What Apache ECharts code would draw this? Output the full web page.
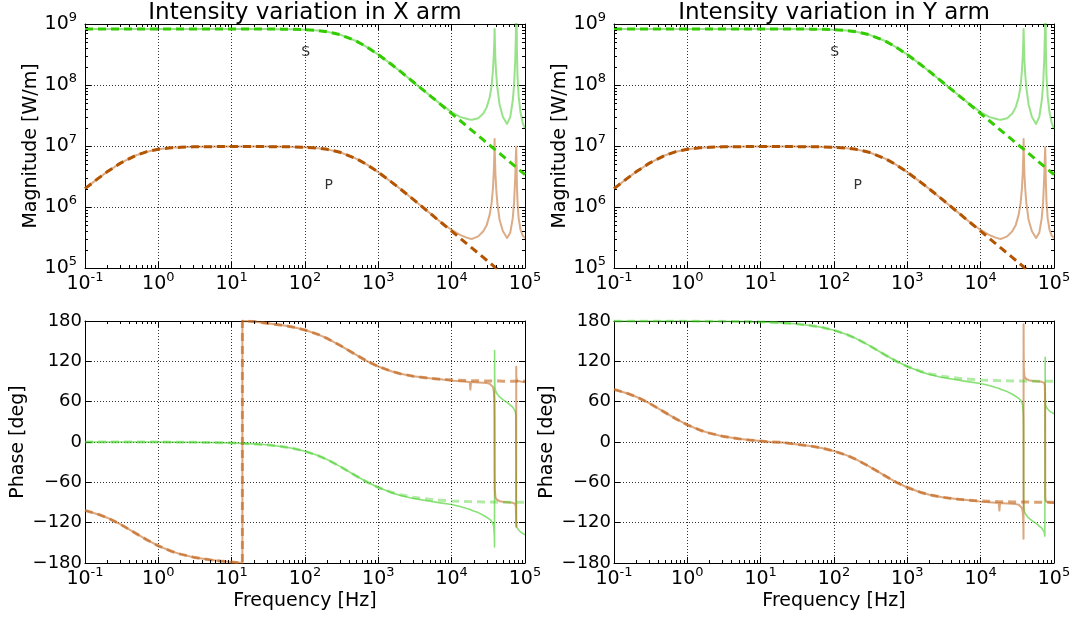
<!DOCTYPE html>
<html><head><meta charset="utf-8">
<script src="https://cdn.jsdelivr.net/npm/echarts@6/dist/echarts.min.js"></script>
<style>html,body{margin:0;padding:0;background:#fff}#c{width:1071px;height:617px}</style>
</head><body><div id="c"></div>
<script>
// ---------------- data ----------------
const freq = [
  0.1,0.15,0.2,0.3,0.5,0.7,1,1.5,2,3,
  5,7,10,14,14,20,30,50,70,100,
  150,200,300,500,700,1000,1500,2000,3000,5000,
  7000,10000,13000,16000,17600,18000,18400,19000,23000,27000,
  30000,33000,35000,36500,37500,38200,38400,38500,38600,38800,
  39500,40500,42000,45000,50000,57000,63000,68000,71000,73500,
  75000,75800,76000,76200,76600,77500,79000,82000,87000,93000,
  100000];

// magnitude, S polarisation (same in both arms)
const magSfit = [
  8.3e8,8.3e8,8.3e8,8.3e8,8.3e8,8.3e8,8.3e8,8.3e8,8.3e8,8.3e8,
  8.3e8,8.3e8,8.3e8,8.3e8,8.3e8,8.29e8,8.28e8,8.24e8,8.18e8,8.06e8,
  7.79e8,7.46e8,6.70e8,5.26e8,4.19e8,3.15e8,2.19e8,1.67e8,1.12e8,6.78e7,
  4.85e7,3.40e7,2.62e7,2.13e7,1.93e7,1.89e7,1.85e7,1.79e7,1.48e7,1.26e7,
  1.13e7,1.03e7,9.72e6,9.32e6,9.07e6,8.91e6,8.86e6,8.84e6,8.82e6,8.77e6,
  8.62e6,8.40e6,8.10e6,7.56e6,6.81e6,5.97e6,5.40e6,5.00e6,4.79e6,4.63e6,
  4.54e6,4.49e6,4.48e6,4.47e6,4.44e6,4.39e6,4.31e6,4.15e6,3.91e6,3.66e6,
  3.40e6];
const magS = [
  8.3e8,8.3e8,8.3e8,8.3e8,8.3e8,8.3e8,8.3e8,8.3e8,8.3e8,8.3e8,
  8.3e8,8.3e8,8.3e8,8.3e8,8.3e8,8.29e8,8.28e8,8.24e8,8.18e8,8.06e8,
  7.79e8,7.46e8,6.70e8,5.26e8,4.19e8,3.15e8,2.19e8,1.67e8,1.12e8,6.8e7,
  4.9e7,3.6e7,3.0e7,2.8e7,2.72e7,2.7e7,2.7e7,2.7e7,2.85e7,3.4e7,
  4.3e7,6.3e7,9.5e7,1.7e8,3.0e8,5.5e8,7.5e8,8.3e8,7.5e8,5.5e8,
  2.6e8,1.5e8,9.0e7,4.8e7,3.0e7,2.3e7,3.0e7,5.5e7,1.0e8,2.5e8,
  6.0e8,1.5e9,2.5e9,5.0e9,2.5e9,4.0e8,1.4e8,6.5e7,3.5e7,2.4e7,
  1.9e7];
// magnitude, P polarisation
const magPfit = [
  2.00e6,2.92e6,3.77e6,5.19e6,7.07e6,8.08e6,8.83e6,9.33e6,9.53e6,9.68e6,
  9.75e6,9.78e6,9.79e6,9.79e6,9.79e6,9.78e6,9.77e6,9.73e6,9.66e6,9.52e6,
  9.20e6,8.81e6,7.91e6,6.21e6,4.95e6,3.72e6,2.58e6,1.97e6,1.33e6,8.01e5,
  5.73e5,4.02e5,3.09e5,2.51e5,2.28e5,2.23e5,2.18e5,2.11e5,1.75e5,1.49e5,
  1.34e5,1.22e5,1.15e5,1.10e5,1.07e5,1.05e5,1.046e5,1.04e5,1.04e5,1.036e5,
  1.02e5,9.92e4,9.57e4,8.93e4,8.04e4,7.05e4,6.38e4,5.91e4,5.66e4,5.47e4,
  5.36e4,5.30e4,5.29e4,5.27e4,5.25e4,5.19e4,5.09e4,4.90e4,4.62e4,4.32e4,
  4.02e4];
const magP = [
  2.00e6,2.92e6,3.77e6,5.19e6,7.07e6,8.08e6,8.83e6,9.33e6,9.53e6,9.68e6,
  9.75e6,9.78e6,9.79e6,9.79e6,9.79e6,9.78e6,9.77e6,9.73e6,9.66e6,9.52e6,
  9.20e6,8.81e6,7.91e6,6.21e6,4.95e6,3.72e6,2.58e6,1.97e6,1.33e6,8.01e5,
  5.73e5,4.2e5,3.5e5,3.15e5,3.05e5,3.0e5,3.0e5,3.0e5,3.3e5,4.0e5,
  5.0e5,7.5e5,1.15e6,2.0e6,3.6e6,7.5e6,1.1e7,1.3e7,1.1e7,7.5e6,
  3.5e6,2.0e6,1.15e6,6.2e5,4.0e5,3.1e5,3.8e5,6.5e5,1.2e6,3.0e6,
  6.5e6,9.5e6,1.0e7,9.0e6,6.0e6,2.5e6,1.2e6,6.5e5,4.2e5,3.4e5,
  3.1e5];

// phase, X arm
const phSXfit = [
  0,0,0,0,-0.1,-0.1,-0.1,-0.2,-0.3,-0.4,
  -0.7,-1.0,-1.4,-2.0,-2.0,-2.8,-4.2,-7.0,-9.7,-13.7,
  -20.1,-26.0,-36.2,-50.6,-59.6,-67.7,-74.7,-78.4,-82.2,-85.3,
  -86.6,-87.7,-88.2,-88.5,-88.7,-88.7,-88.7,-88.8,-89.0,-89.1,
  -89.2,-89.3,-89.3,-89.4,-89.4,-89.4,-89.4,-89.4,-89.4,-89.4,
  -89.4,-89.4,-89.4,-89.5,-89.5,-89.6,-89.6,-89.7,-89.7,-89.7,
  -89.7,-89.7,-89.7,-89.7,-89.7,-89.7,-89.7,-89.7,-89.7,-89.7,
  -89.8];
const phSX = [
  0,0,0,0,-0.1,-0.1,-0.1,-0.2,-0.3,-0.4,
  -0.7,-1.0,-1.4,-2.0,-2.0,-2.8,-4.2,-7.0,-9.7,-13.7,
  -20.1,-26.0,-36.2,-50.6,-59.6,-67.8,-75.3,-79.5,-84.0,-88.0,
  -90.5,-93.0,-96.0,-99.0,-100.0,-100.5,-101.0,-102.0,-105.0,-109.0,
  -112,-115,-118,-121,-126,-140,-156,136,100,84,
  77,74,71,67,63,59,55,52,50,46,
  40,-54,-100,-118,-124,-127,-129,-131,-134,-136,
  -138];
const phPXfit = [
  -101.8,-107.4,-112.6,-122.0,-136.3,-145.6,-154.5,-162.5,-166.8,-171.3,
  -175.2,-177.1,-178.6,-180,180,179.4,176.7,173.6,170.7,166.6,
  160.1,154.1,143.9,129.5,120.4,112.3,105.3,101.6,97.8,94.7,
  93.4,92.3,91.8,91.5,91.3,91.3,91.3,91.2,91.0,90.9,
  90.8,90.7,90.7,90.6,90.6,90.6,90.6,90.6,90.6,90.6,
  90.6,90.6,90.6,90.6,90.5,90.5,90.4,90.4,90.3,90.3,
  90.3,90.3,90.3,90.3,90.3,90.3,90.3,90.3,90.3,90.3,
  90.2];
const phPX = [
  -101.8,-107.4,-112.6,-122.0,-136.3,-145.6,-154.5,-162.5,-166.8,-171.3,
  -175.2,-177.1,-178.6,-180,180,179.4,176.7,173.6,170.7,166.6,
  160.1,154.1,143.9,129.5,120.4,112.3,105.3,101.6,97.8,94.7,
  93.4,91.3,90.5,89.8,89.3,78,89.2,89.0,88.6,88.2,
  87.6,86.6,85,82,76,62,36,-5,-45,-70,
  -82,-85,-87,-88,-89,-89.5,-90,-90.5,-91,-92,
  -96,-126,112,98,94,92,91,90.5,90,89.5,
  89];

// phase, Y arm
const phSYfit = [
  180,180,180,180,179.9,179.9,179.9,179.8,179.7,179.6,
  179.3,179.0,178.6,178.0,178.0,177.2,175.8,173.0,170.3,166.3,
  159.9,154.0,143.8,129.4,120.4,112.3,105.3,101.6,97.8,94.7,
  93.4,92.3,91.8,91.5,91.3,91.3,91.3,91.2,91.0,90.9,
  90.8,90.7,90.7,90.6,90.6,90.6,90.6,90.6,90.6,90.6,
  90.6,90.6,90.6,90.5,90.5,90.4,90.4,90.3,90.3,90.3,
  90.3,90.3,90.3,90.3,90.3,90.3,90.3,90.3,90.3,90.3,
  90.2];
const phSY = [
  180,180,180,180,179.9,179.9,179.9,179.8,179.7,179.6,
  179.3,179.0,178.6,178.0,178.0,177.2,175.8,173.0,170.3,166.3,
  159.9,154.0,143.8,129.4,120.4,112.2,104.7,100.5,96.0,92.0,
  89.5,87.0,84.0,81.0,80.0,79.5,79.0,78.0,75.0,71.0,
  68,65,62,59,54,40,24,-44,-80,-96,
  -103,-106,-109,-113,-117,-121,-125,-128,-130,-134,
  -140,126,80,62,56,53,51,49,46,44,
  42];
const phPYfit = [
  78.2,72.6,67.4,58.0,43.7,34.4,25.5,17.5,13.2,8.7,
  4.8,2.9,1.4,0,0,-0.6,-3.3,-6.4,-9.3,-13.4,
  -19.9,-25.9,-36.1,-50.5,-59.6,-67.7,-74.7,-78.4,-82.2,-85.3,
  -86.6,-87.7,-88.2,-88.5,-88.7,-88.7,-88.7,-88.8,-89.0,-89.1,
  -89.2,-89.3,-89.3,-89.4,-89.4,-89.4,-89.4,-89.4,-89.4,-89.4,
  -89.4,-89.4,-89.4,-89.4,-89.5,-89.5,-89.6,-89.6,-89.7,-89.7,
  -89.7,-89.7,-89.7,-89.7,-89.7,-89.7,-89.7,-89.7,-89.7,-89.7,
  -89.8];
const phPY = [
  78.2,72.6,67.4,58.0,43.7,34.4,25.5,17.5,13.2,8.7,
  4.8,2.9,1.4,0,0,-0.6,-3.3,-6.4,-9.3,-13.4,
  -19.9,-25.9,-36.1,-50.5,-59.6,-67.7,-74.7,-78.4,-82.2,-85.3,
  -86.6,-88.7,-89.5,-90.2,-90.7,-102,-90.8,-91.0,-91.4,-91.8,
  -92.4,-93.4,-95,-98,-104,-118,-144,175,135,110,
  98,95,93,92,91,90.5,90,89.5,89,88,
  84,54,-68,-82,-86,-88,-89,-89.5,-90,-90.5,
  -91];

// annotations on the magnitude panels
const annoText = ['S', 'P'];
const annoFreq = [102, 210];
const annoMag = [3.4e8, 2.3e6];

const titles = ['Intensity variation in X arm', 'Intensity variation in Y arm'];
const minorMult = [2, 3, 4, 5, 6, 7, 8, 9];

// ---------------- chart ----------------
const FONT = 'DejaVu Sans';
const chart = echarts.init(document.getElementById('c'), null, {renderer: 'canvas'});

const grids = [
  {left: 85, top: 24, width: 440, height: 244},
  {left: 614, top: 24, width: 440, height: 244},
  {left: 85, top: 321, width: 440, height: 242},
  {left: 614, top: 321, width: 440, height: 242}
];

const expRich = {
  b: {fontFamily: FONT, fontSize: 19, color: '#000', lineHeight: 26},
  s: {fontFamily: FONT, fontSize: 13, color: '#000', lineHeight: 13, verticalAlign: 'top'}
};
function expFmt(v) {
  const e = Math.round(Math.log10(v));
  return '{b|10}{s|' + e + '}';
}
const gridLine = {show: true, lineStyle: {color: '#000', width: 1, type: [1, 2], opacity: 0.8}};
const frame = {show: true, onZero: false, lineStyle: {color: '#000', width: 1}};
const tick = {show: true, inside: true, length: 6, lineStyle: {color: '#000', width: 1}};

const xAxes = [], yAxes = [];
for (let g = 0; g < 4; g++) {
  const bottomRow = g >= 2;
  xAxes.push({
    type: 'log', logBase: 10, gridIndex: g, min: 0.1, max: 1e5, position: 'bottom',
    axisLine: frame, axisTick: tick, splitLine: gridLine,
    axisLabel: {show: true, formatter: expFmt, rich: expRich, margin: 3, interval: 0,
      showMinLabel: true, showMaxLabel: true, hideOverlap: false},
    name: bottomRow ? 'Frequency [Hz]' : '', nameLocation: 'middle', nameGap: 29,
    nameTextStyle: {fontFamily: FONT, fontSize: 19, color: '#000'}
  });
  if (!bottomRow) {
    yAxes.push({
      type: 'log', logBase: 10, gridIndex: g, min: 1e5, max: 1e9, position: 'left',
      axisLine: frame, axisTick: tick, splitLine: gridLine,
      axisLabel: {show: true, formatter: expFmt, rich: expRich, margin: 8, interval: 0,
        showMinLabel: true, showMaxLabel: true, hideOverlap: false},
      name: 'Magnitude [W/m]', nameLocation: 'middle', nameGap: 44,
      nameTextStyle: {fontFamily: FONT, fontSize: 19, color: '#000'}
    });
  } else {
    yAxes.push({
      type: 'value', gridIndex: g, min: -180, max: 180, interval: 60, position: 'left',
      axisLine: frame, axisTick: tick, splitLine: gridLine,
      axisLabel: {show: true, fontFamily: FONT, fontSize: 18, color: '#000', margin: 3,
        formatter: v => v < 0 ? '\u2212' + (-v) : String(v), showMinLabel: true, showMaxLabel: true},
      name: 'Phase [deg]', nameLocation: 'middle', nameGap: 57,
      nameTextStyle: {fontFamily: FONT, fontSize: 19, color: '#000'}
    });
  }
}
// mirrored top / right axes (frame + inward ticks)
for (let g = 0; g < 4; g++) {
  xAxes.push({type: 'log', logBase: 10, gridIndex: g, min: 0.1, max: 1e5, position: 'top',
    axisLine: frame, axisTick: tick, splitLine: {show: false}, axisLabel: {show: false}});
  if (g < 2) {
    yAxes.push({type: 'log', logBase: 10, gridIndex: g, min: 1e5, max: 1e9, position: 'right',
      axisLine: frame, axisTick: tick, splitLine: {show: false}, axisLabel: {show: false}});
  } else {
    yAxes.push({type: 'value', gridIndex: g, min: -180, max: 180, interval: 60, position: 'right',
      axisLine: frame, axisTick: tick, splitLine: {show: false}, axisLabel: {show: false}});
  }
}

function line(g, ys, color, width, dashed, z) {
  return {
    type: 'line', xAxisIndex: g, yAxisIndex: g,
    data: freq.map((f, i) => [f, ys[i]]),
    showSymbol: false, symbol: 'none', smooth: false, clip: true, silent: true,
    lineStyle: {color: color, width: width, type: dashed ? [8, 5] : 'solid', cap: 'butt', join: 'round'},
    z: z, animation: false
  };
}

// minor ticks (decoration) through the axes' own coordinate conversion
function minorX(g, yMin, yMax) {
  const vals = [];
  for (let n = -1; n <= 4; n++) minorMult.forEach(m => vals.push(m * Math.pow(10, n)));
  return {
    type: 'custom', xAxisIndex: g, yAxisIndex: g, silent: true, clip: false, z: 10,
    data: vals.map(v => [v, yMin]),
    renderItem: (p, api) => {
      const a = api.coord([api.value(0), yMin]);
      const b = api.coord([api.value(0), yMax]);
      const x = Math.round(a[0]) + 0.5;
      return {type: 'group', children: [
        {type: 'line', shape: {x1: x, y1: a[1], x2: x, y2: a[1] - 3}, style: {stroke: '#000', lineWidth: 1}},
        {type: 'line', shape: {x1: x, y1: b[1], x2: x, y2: b[1] + 3}, style: {stroke: '#000', lineWidth: 1}}
      ]};
    }
  };
}
function minorY(g) {
  const vals = [];
  for (let n = 5; n <= 8; n++) minorMult.forEach(m => vals.push(m * Math.pow(10, n)));
  return {
    type: 'custom', xAxisIndex: g, yAxisIndex: g, silent: true, clip: false, z: 10,
    data: vals.map(v => [0.1, v]),
    renderItem: (p, api) => {
      const a = api.coord([0.1, api.value(1)]);
      const b = api.coord([1e5, api.value(1)]);
      const y = Math.round(a[1]) + 0.5;
      return {type: 'group', children: [
        {type: 'line', shape: {x1: a[0], y1: y, x2: a[0] + 3, y2: y}, style: {stroke: '#000', lineWidth: 1}},
        {type: 'line', shape: {x1: b[0], y1: y, x2: b[0] - 3, y2: y}, style: {stroke: '#000', lineWidth: 1}}
      ]};
    }
  };
}
function annotations(g) {
  return {
    type: 'scatter', xAxisIndex: g, yAxisIndex: g, silent: true, z: 20,
    data: annoFreq.map((f, i) => [f, annoMag[i]]),
    symbolSize: 1, itemStyle: {color: 'rgba(0,0,0,0)'},
    label: {show: true, position: 'inside', formatter: p => annoText[p.dataIndex],
      color: '#000', fontFamily: FONT, fontSize: 14}
  };
}

const C = {
  mSs: 'rgba(50,200,20,0.5)', mSd: 'rgb(51,204,0)',
  mPs: 'rgba(185,90,15,0.5)', mPd: 'rgb(179,84,0)',
  pSs: 'rgba(60,205,30,0.6)', pSd: 'rgba(60,205,30,0.4)',
  pPs: 'rgba(190,95,20,0.55)', pPd: 'rgba(195,100,25,0.6)'
};

const series = [];
for (let g = 0; g < 2; g++) {
  series.push(line(g, magS, C.mSs, 2, false, 3));
  series.push(line(g, magP, C.mPs, 2, false, 3));
  series.push(line(g, magSfit, C.mSd, 3, true, 4));
  series.push(line(g, magPfit, C.mPd, 3, true, 4));
  series.push(minorX(g, 1e5, 1e9));
  series.push(minorY(g));
  series.push(annotations(g));
}
series.push(line(2, phSX, C.pSs, 1.6, false, 3));
series.push(line(2, phPX, C.pPs, 2, false, 3));
series.push(line(2, phSXfit, C.pSd, 3, true, 4));
series.push(line(2, phPXfit, C.pPd, 3, true, 4));
series.push(minorX(2, -180, 180));
series.push(line(3, phSY, C.pSs, 1.6, false, 3));
series.push(line(3, phPY, C.pPs, 2, false, 3));
series.push(line(3, phSYfit, C.pSd, 3, true, 4));
series.push(line(3, phPYfit, C.pPd, 3, true, 4));
series.push(minorX(3, -180, 180));

const graphic = titles.map((t, i) => ({
  type: 'text', x: grids[i].left + grids[i].width / 2, y: 13, silent: true,
  style: {text: t, font: '23px "DejaVu Sans"', fill: '#000',
    align: 'center', verticalAlign: 'middle', textAlign: 'center', textVerticalAlign: 'middle'}
}));

chart.setOption({
  animation: false,
  backgroundColor: '#fff',
  textStyle: {fontFamily: FONT},
  grid: grids.map(g => Object.assign({containLabel: false, outerBoundsMode: 'none'}, g)),
  xAxis: xAxes,
  yAxis: yAxes,
  series: series,
  graphic: graphic
});
</script>
</body></html>
